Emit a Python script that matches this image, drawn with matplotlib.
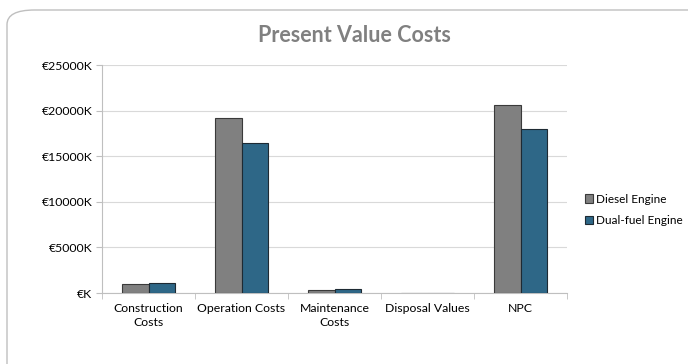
import numpy as np
import matplotlib.pyplot as plt
from matplotlib.patches import FancyBboxPatch

# Present value costs, thousands of euro
categories = ["Construction\nCosts", "Operation Costs", "Maintenance\nCosts",
              "Disposal Values", "NPC"]
diesel = [950, 19220, 350, -30, 20580]
dual_fuel = [1130, 16410, 400, -30, 18020]
y_ticks = [0, 5000, 10000, 15000, 20000, 25000]

plt.rcParams["font.family"] = ["Lato", "DejaVu Sans"]

fig = plt.figure(figsize=(6.88, 3.64), dpi=100)

# rounded chart border
border = FancyBboxPatch((7 / 688, -0.2), 1.2, 1.2 - 10 / 364,
                        boxstyle="round,pad=0,rounding_size=0.04",
                        transform=fig.transFigure, facecolor="white",
                        edgecolor="#bfbfbf", linewidth=1.0, zorder=-10)
fig.patches.append(border)

ax = fig.add_axes([102 / 688, 71 / 364, 465 / 688, 228 / 364])
ax.set_facecolor("none")

x = np.arange(len(categories))
w = 0.29
ax.bar(x - w / 2, diesel, w, color="#808080", edgecolor="#3a3a3a",
       linewidth=0.8, label="Diesel Engine", zorder=3)
ax.bar(x + w / 2, dual_fuel, w, color="#2e6787", edgecolor="#1e2a33",
       linewidth=0.8, label="Dual-fuel Engine", zorder=3)

ax.set_xlim(-0.5, len(categories) - 0.5)
ax.set_ylim(0, 25000)
ax.set_yticks(y_ticks)
ax.set_yticklabels(["€K"] + [f"€{v}K" for v in y_ticks[1:]])
ax.set_xticks(x)
ax.set_xticklabels(categories, linespacing=1.35)
ax.set_xticks(np.arange(len(categories) + 1) - 0.5, minor=True)

ax.grid(axis="y", color="#d9d9d9", linewidth=0.8, zorder=0)
for s in ["top", "right"]:
    ax.spines[s].set_visible(False)
ax.spines["left"].set_color("#bfbfbf")
ax.spines["bottom"].set_color("#bfbfbf")
ax.tick_params(axis="y", length=4, color="#bfbfbf", labelsize=8.8, pad=3)
ax.tick_params(axis="x", which="major", length=0, labelsize=8.8, pad=7)
ax.tick_params(axis="x", which="minor", length=4, color="#bfbfbf")

fig.text(354 / 688, 1 - 35 / 364, "Present Value Costs", ha="center",
         va="center", fontsize=15.5, fontweight="bold", color="#808080")

fig.legend(loc="center left", bbox_to_anchor=(574 / 688, 1 - 210 / 364),
           frameon=False, fontsize=8.5, handlelength=0.7, handleheight=0.7,
           handletextpad=0.3, labelspacing=0.9)

fig.savefig("out.png", dpi=100)
